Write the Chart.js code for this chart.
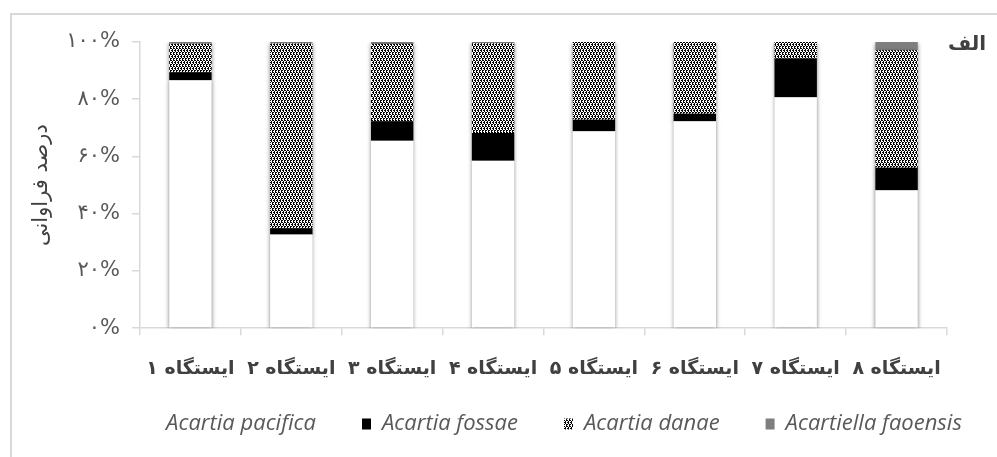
<!DOCTYPE html>
<html>
<head>
<meta charset="utf-8">
<script src="https://cdn.jsdelivr.net/npm/chart.js@4/dist/chart.umd.min.js"></script>
<style>
  html, body { margin: 0; padding: 0; background: #fff; }
  #wrap { position: relative; width: 997px; height: 457px; overflow: hidden; }
  #frame { position: absolute; left: 10px; top: 13px; width: 1200px; height: 600px;
           border-left: 2px solid #d9d9d9; border-top: 2px solid #d9d9d9; box-sizing: border-box; pointer-events: none; }
  #tag { position: absolute; left: 948px; top: 31px; font-family: "DejaVu Sans", sans-serif;
         font-weight: bold; font-size: 20px; color: #404040; direction: rtl; }
  canvas { position: absolute; left: 0; top: 0; }
</style>
</head>
<body>
<div id="wrap">
  <canvas id="c" width="997" height="457"></canvas>
  <div id="frame"></div>
  <div id="tag">الف</div>
</div>
<script>
const categories = ['ایستگاه ۱','ایستگاه ۲','ایستگاه ۳','ایستگاه ۴','ایستگاه ۵','ایستگاه ۶','ایستگاه ۷','ایستگاه ۸'];
const seriesNames = ['Acartia pacifica','Acartia fossae','Acartia danae','Acartiella faoensis'];
const pacifica = [86.6, 32.7, 65.5, 58.5, 68.8, 72.3, 80.7, 48.2];
const fossae   = [2.8, 2.2, 6.8, 9.7, 4.0, 2.6, 13.5, 7.9];
const danae    = [10.0, 64.6, 27.0, 31.4, 27.2, 25.1, 5.8, 41.0];
const faoensis = [0.6, 0.5, 0.7, 0.4, 0, 0, 0, 2.9];
const yTickLabels = ['۰%','۲۰%','۴۰%','۶۰%','۸۰%','۱۰۰%'];
const yTitle = 'درصد فراوانی';

function makePattern() {
  const t = document.createElement('canvas');
  t.width = 6; t.height = 6;
  const g = t.getContext('2d');
  g.fillStyle = '#fff'; g.fillRect(0,0,6,6);
  g.fillStyle = '#000';
  const bits = [
    'X.XX.X',
    '.X..X.',
    'XX.XX.',
    '.X..X.',
    'X.XX.X',
    '..X..X'
  ];
  for (let y=0;y<6;y++) for (let x=0;x<6;x++) if (bits[y][x]==='X') g.fillRect(x,y,1,1);
  return g.createPattern(t, 'repeat');
}
const danaePattern = makePattern();

const shadowPlugin = {
  id: 'barShadow',
  beforeDatasetsDraw(chart) {
    const ctx = chart.ctx;
    ctx.save();
    ctx.shadowColor = 'rgba(0,0,0,0.5)';
    ctx.shadowBlur = 4;
    ctx.shadowOffsetX = 0;
    ctx.shadowOffsetY = 1.5;
  },
  afterDatasetsDraw(chart) {
    chart.ctx.restore();
  }
};

// layout tweaks (positions only): shift legend, give x labels room to draw
const LEG_DX = 66, X_LABEL_ROOM = 35;
const layoutTweak = {
  id: 'layoutTweak',
  afterLayout(chart) {
    const l = chart.legend;
    if (l) { l.left += LEG_DX; l.right += LEG_DX; }
    const xs = chart.scales.x;
    xs.bottom += X_LABEL_ROOM; xs.height += X_LABEL_ROOM;
  }
};

const common = { barPercentage: 0.42, categoryPercentage: 1.0, borderWidth: 0 };

new Chart(document.getElementById('c'), {
  type: 'bar',
  data: {
    labels: categories,
    datasets: [
      Object.assign({ label: seriesNames[0], data: pacifica, backgroundColor: '#ffffff' }, common),
      Object.assign({ label: seriesNames[1], data: fossae, backgroundColor: '#000000' }, common),
      Object.assign({ label: seriesNames[2], data: danae, backgroundColor: danaePattern }, common),
      Object.assign({ label: seriesNames[3], data: faoensis, backgroundColor: '#7f7f7f' }, common)
    ]
  },
  options: {
    responsive: false,
    animation: false,
    devicePixelRatio: 1,
    layout: { padding: { left: 29, right: 50, top: 42, bottom: 12 } },
    scales: {
      x: {
        stacked: true,
        afterFit: (scale) => { scale.height -= X_LABEL_ROOM; },
        border: { color: '#d9d9d9', width: 1.5 },
        grid: { drawOnChartArea: false, drawTicks: true, tickLength: 7, color: '#d9d9d9', lineWidth: 1.5 },
        ticks: { color: '#404040', padding: 22, maxRotation: 0, autoSkip: false,
                 font: { family: 'DejaVu Sans', size: 19, weight: 'bold' } }
      },
      y: {
        stacked: true,
        min: 0, max: 100,
        border: { color: '#d9d9d9', width: 1.5 },
        grid: { drawOnChartArea: false, drawTicks: true, tickLength: 8, color: '#d9d9d9', lineWidth: 1.5 },
        ticks: { stepSize: 20, color: '#595959', padding: 12,
                 font: { family: 'DejaVu Sans', size: 21 },
                 callback: (v) => yTickLabels[Math.round(v/20)] },
        title: { display: true, text: yTitle, color: '#404040', padding: { top: 0, bottom: 0 },
                 font: { family: 'DejaVu Sans', size: 21 } }
      }
    },
    plugins: {
      legend: {
        position: 'bottom',
        labels: {
          color: '#595959',
          boxWidth: 9, boxHeight: 11, padding: 46,
          font: { family: 'Open Sans', size: 22, style: 'italic' },
          generateLabels(chart) {
            return chart.data.datasets.map((ds, i) => ({
              text: ds.label,
              fillStyle: ds.backgroundColor,
              strokeStyle: ds.backgroundColor === '#ffffff' ? '#ffffff' : 'rgba(0,0,0,0)',
              lineWidth: 0,
              hidden: false,
              datasetIndex: i,
              fontColor: '#595959'
            }));
          }
        }
      },
      tooltip: { enabled: false }
    }
  },
  plugins: [shadowPlugin, layoutTweak]
});
</script>
</body>
</html>
